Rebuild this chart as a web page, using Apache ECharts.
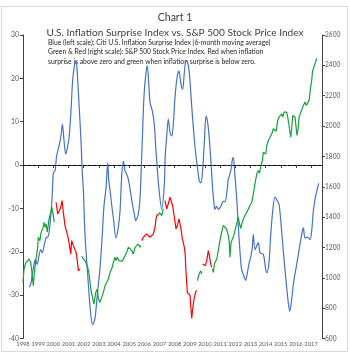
<!DOCTYPE html>
<html><head><meta charset="utf-8">
<script src="https://cdn.jsdelivr.net/npm/echarts@6/dist/echarts.min.js"></script>
<style>html,body{margin:0;padding:0;background:#fff}#c{width:350px;height:360px}</style>
</head><body><div id="c"></div>
<script>
// Tick labels
const yearTicks = [1998,1999,2000,2001,2002,2003,2004,2005,2006,2007,2008,2009,2010,2011,2012,2013,2014,2015,2016,2017];

// Blue: Citi U.S. Inflation Surprise Index (6m MA), left scale [year, value]
const surprise = [
[1998.42,-28.2],[1998.53,-27.2],[1998.61,-25.2],[1998.73,-22.9],[1998.81,-21.8],[1998.94,-22.9],
[1999.05,-21],[1999.17,-19.5],[1999.27,-20.2],[1999.41,-18.3],[1999.52,-16.8],[1999.67,-16.4],
[1999.78,-13.7],[1999.89,-9.1],[1999.96,-4.5],[2000.0,-1.8],[2000.11,-1.4],[2000.22,2.1],
[2000.4,4.8],[2000.5,6.7],[2000.6,9.4],[2000.7,5.9],[2000.82,2.5],[2000.95,4.4],[2001.05,6.7],
[2001.17,12.9],[2001.28,19.8],[2001.41,23.3],[2001.5,24.0],[2001.58,21.3],[2001.69,14.4],
[2001.83,5.2],[2001.91,-1.8],[2001.98,-5.6],[2002.09,-16],[2002.31,-27.5],[2002.47,-34.5],
[2002.6,-36.8],[2002.75,-35.3],[2002.9,-29.9],[2003.08,-23.7],[2003.23,-16],[2003.34,-9.5],
[2003.47,-5.5],[2003.59,0.5],[2003.65,-3.3],[2003.76,-6.4],[2003.86,-9.5],[2003.97,-12.5],
[2004.13,-16.8],[2004.28,-14.5],[2004.4,-10.6],[2004.51,-2.5],[2004.62,0.9],[2004.73,-1.4],
[2004.84,-2.1],[2004.95,-3.3],[2005.1,-6.4],[2005.24,-9.5],[2005.35,-11.4],[2005.43,-12.8],
[2005.6,-11.4],[2005.72,-7.5],[2005.83,2.1],[2005.98,15.9],[2006.11,21.3],[2006.2,22.9],
[2006.29,19],[2006.38,14.4],[2006.53,12.5],[2006.66,9.4],[2006.75,4.4],[2006.86,-1],
[2006.97,-5.6],[2007.15,-10.2],[2007.32,-4.5],[2007.38,2.1],[2007.48,6.7],[2007.58,10.6],
[2007.7,7.5],[2007.81,6.7],[2007.92,9.8],[2008.03,15.9],[2008.18,20.6],[2008.29,21.7],
[2008.42,18.6],[2008.53,17.5],[2008.64,21.3],[2008.75,24],[2008.86,23.6],[2008.97,21.3],
[2009.08,15.9],[2009.19,10.6],[2009.3,5.9],[2009.41,2.1],[2009.52,-1],[2009.63,-3.7],
[2009.74,-4.1],[2009.85,-1],[2009.96,5.2],[2010.07,11.3],[2010.18,9.8],[2010.29,5.9],
[2010.4,0.5],[2010.51,-5.6],[2010.6,-9],[2010.66,-10.2],[2010.77,-9.5],[2010.88,-10.2],
[2011.0,-9.8],[2011.1,-9.1],[2011.21,-8.3],[2011.32,-8.5],[2011.44,-6.4],[2011.54,-3.3],
[2011.61,-2.5],[2011.72,-1],[2011.81,1.3],[2011.87,1.7],[2011.98,-2.5],[2012.1,-8],
[2012.2,-14],[2012.31,-19.9],[2012.42,-24.1],[2012.57,-25.6],[2012.68,-26.6],[2012.79,-25],
[2012.92,-22.5],[2013.03,-21],[2013.12,-19.1],[2013.19,-16],[2013.3,-19.5],[2013.52,-17.9],
[2013.63,-20.2],[2013.85,-20.6],[2014.01,-24.1],[2014.1,-24.8],[2014.23,-22.2],[2014.34,-16],
[2014.47,-10.6],[2014.62,-7.4],[2014.78,-8.3],[2014.89,-9.1],[2015.02,-13.7],[2015.17,-19.9],
[2015.33,-26],[2015.46,-30.6],[2015.59,-33.7],[2015.72,-31],[2015.83,-27.5],[2016.01,-23.7],
[2016.16,-20.6],[2016.34,-16.8],[2016.49,-14.5],[2016.6,-16.8],[2016.75,-16.6],[2016.93,-17.2],
[2017.04,-15.2],[2017.15,-10.6],[2017.26,-7.9],[2017.41,-5.5],[2017.5,-4.2]
];

// S&P 500, right scale: green segments (surprise below zero)
const spGreenSegments = [
[[1998.0,970],[1998.07,1058],[1998.18,1098],[1998.28,1091],[1998.4,1124],[1998.51,1102],[1998.6,1025],
 [1998.68,948],[1998.75,1036],[1998.86,1124],[1998.97,1201],[1999.01,1267],[1999.12,1245],[1999.19,1300],
 [1999.3,1322],[1999.39,1366],[1999.45,1333],[1999.52,1355],[1999.6,1300],[1999.72,1388],[1999.83,1432],
 [1999.91,1465],[2000.0,1410],[2000.06,1366]],
[[2001.87,1141],[2001.98,1135],[2002.09,1113],[2002.16,1124],[2002.27,1069],[2002.37,1014],[2002.49,915],
 [2002.6,926],[2002.68,827],[2002.8,904],[2002.9,926],[2002.97,860],[2003.08,838],[2003.19,849],
 [2003.3,904],[2003.41,948],[2003.52,970],[2003.63,992],[2003.74,1036],[2003.85,1058],[2003.96,1102],
 [2004.07,1135],[2004.13,1113],[2004.22,1135],[2004.33,1113],[2004.44,1124],[2004.55,1110],
 [2004.62,1102],[2004.73,1146],[2004.84,1168],[2004.95,1201],[2005.06,1190],[2005.17,1179],
 [2005.28,1157],[2005.39,1201],[2005.5,1190],[2005.6,1223],[2005.72,1201],[2005.78,1212]],
[[2006.93,1410],[2007.0,1430],[2007.08,1443],[2007.15,1410],[2007.21,1432],[2007.25,1454]],
[[2009.5,981],[2009.61,1025],[2009.72,1047],[2009.79,1025]],
[[2010.49,1058],[2010.56,1036],[2010.62,1091],[2010.71,1080],[2010.78,1124],[2010.88,1179],[2010.99,1245],
 [2011.1,1300],[2011.21,1345],[2011.32,1355],[2011.43,1320],[2011.54,1280],[2011.6,1240],[2011.65,1135],
 [2011.72,1230],[2011.79,1250],[2011.87,1267],[2011.98,1311],[2012.09,1355],[2012.2,1399],[2012.27,1360],
 [2012.36,1325],[2012.43,1355],[2012.53,1388],[2012.64,1410],[2012.76,1432],[2012.86,1421],[2012.97,1476],
 [2013.09,1498],[2013.19,1553],[2013.3,1620],[2013.42,1685],[2013.52,1707],[2013.6,1690],[2013.7,1740],
 [2013.79,1773],[2013.85,1828],[2013.92,1839],[2014.01,1815],[2014.08,1872],[2014.18,1905],[2014.29,1916],
 [2014.41,1949],[2014.51,1982],[2014.62,1993],[2014.69,1965],[2014.8,2037],[2014.89,2059],[2014.97,2048],
 [2015.06,2081],[2015.13,2059],[2015.22,2092],[2015.28,2081],[2015.39,2092],[2015.46,2059],[2015.53,2015],
 [2015.59,1971],[2015.66,1927],[2015.72,1982],[2015.79,2070],[2015.88,2081],[2015.94,2059],[2016.01,1993],
 [2016.07,1938],[2016.14,1982],[2016.21,2059],[2016.29,2081],[2016.38,2092],[2016.49,2136],[2016.6,2158],
 [2016.69,2136],[2016.78,2125],[2016.87,2169],[2016.95,2240],[2017.04,2300],[2017.1,2365],[2017.18,2385],
 [2017.27,2415],[2017.37,2445]]
];

// S&P 500, right scale: red segments (surprise above zero)
const spRedSegments = [
[[2000.18,1498],[2000.29,1421],[2000.4,1443],[2000.49,1465],[2000.58,1509],[2000.66,1432],[2000.77,1344],
 [2000.88,1355],[2000.95,1278],[2001.05,1223],[2001.15,1157],[2001.21,1245],[2001.32,1212],[2001.43,1212],
 [2001.5,1168],[2001.58,1113],[2001.65,1047],[2001.71,1036],[2001.76,1058]],
[[2005.83,1245],[2005.94,1267],[2006.05,1256],[2006.16,1289],[2006.27,1300],[2006.38,1267],[2006.49,1278],
 [2006.6,1289],[2006.71,1333],[2006.77,1388],[2006.86,1421]],
[[2007.37,1509],[2007.48,1454],[2007.58,1487],[2007.7,1531],[2007.76,1542],[2007.87,1476],[2007.98,1399],
 [2008.09,1322],[2008.18,1344],[2008.29,1388],[2008.4,1333],[2008.51,1256],[2008.62,1212],[2008.69,1168],
 [2008.75,1036],[2008.84,904],[2008.95,893],[2009.02,882],[2009.08,794],[2009.13,732],[2009.19,794],
 [2009.28,860],[2009.39,908],[2009.46,915]],
[[2009.85,1091],[2009.94,1102],[2010.03,1080],[2010.12,1113],[2010.22,1179],[2010.29,1146],[2010.38,1091],
 [2010.45,1069]]
];

const BLUE = '#4472C4', GREEN = '#16a03c', RED = '#ff0000';
const AX = '#404040', LBL = '#595959';
const FONT = 'Lato, "Liberation Sans", sans-serif';

const series = [{
  type: 'line', data: surprise, yAxisIndex: 0, symbol: 'none', smooth: 0.3,
  lineStyle: { color: BLUE, width: 1.2 }, z: 2,
  markLine: { silent: true, symbol: 'none', label: { show: false },
    lineStyle: { color: '#000', type: [3, 2], width: 1 }, data: [{ yAxis: 0 }] }
}];
spGreenSegments.forEach(s => series.push({ type: 'line', data: s, yAxisIndex: 1, symbol: 'none',
  lineStyle: { color: GREEN, width: 1.2 }, z: 3 }));
spRedSegments.forEach(s => series.push({ type: 'line', data: s, yAxisIndex: 1, symbol: 'none',
  lineStyle: { color: RED, width: 1.2 }, z: 3 }));

const plain = v => String(Math.round(v));

const chart = echarts.init(document.getElementById('c'), null, { renderer: 'canvas' });
chart.setOption({
  animation: false,
  backgroundColor: '#fff',
  grid: { left: 23, right: 28, top: 35, bottom: 21.5 },
  xAxis: {
    type: 'value', min: 1998, max: 2017.72,
    axisLine: { lineStyle: { color: AX } },
    axisTick: { show: true, length: 3, lineStyle: { color: AX }, customValues: yearTicks },
    axisLabel: { customValues: yearTicks, formatter: plain, hideOverlap: false, color: LBL, fontSize: 5.8, fontFamily: FONT, margin: 2.5 },
    splitLine: { show: false }
  },
  yAxis: [{
    type: 'value', min: -40, max: 30, interval: 10, position: 'left',
    axisLine: { show: true, lineStyle: { color: AX } },
    axisTick: { show: true, length: 3, lineStyle: { color: AX } },
    axisLabel: { color: LBL, fontSize: 6.8, fontFamily: FONT, margin: 4, formatter: plain },
    splitLine: { show: false }
  }, {
    type: 'value', min: 600, max: 2600, interval: 200, position: 'right',
    axisLine: { show: true, lineStyle: { color: AX } },
    axisTick: { show: true, length: 3, lineStyle: { color: AX } },
    axisLabel: { color: LBL, fontSize: 6.6, fontFamily: FONT, margin: 3, formatter: plain },
    splitLine: { show: false }
  }],
  graphic: [
    { type: 'rect', shape: { x: 1.5, y: 6.5, width: 346, height: 345 }, style: { fill: 'none', stroke: '#d9d9d9', lineWidth: 1 }, z: -1 },
    { type: 'text', x: 175, y: 18, style: { text: 'Chart 1', fill: '#404040', fontSize: 10.5, fontFamily: FONT, align: 'center', verticalAlign: 'middle' } },
    { type: 'text', x: 175, y: 32.5, style: { text: 'U.S. Inflation Surprise Index vs. S&P 500 Stock Price Index', fill: '#404040', fontSize: 10.1, fontFamily: FONT, align: 'center', verticalAlign: 'middle' } },
    { type: 'text', x: 48, y: 42.7, style: { text: 'Blue (left scale): Citi U.S. Inflation Surprise Index (6-month moving average)', fill: '#262626', fontSize: 6.8, fontFamily: FONT, align: 'left', verticalAlign: 'middle' } },
    { type: 'text', x: 48, y: 52, style: { text: 'Green & Red (right scale): S&P 500 Stock Price Index. Red when inflation', fill: '#262626', fontSize: 6.8, fontFamily: FONT, align: 'left', verticalAlign: 'middle' } },
    { type: 'text', x: 48, y: 61.7, style: { text: 'surprise is above zero and green when inflation surprise is below zero.', fill: '#262626', fontSize: 6.8, fontFamily: FONT, align: 'left', verticalAlign: 'middle' } }
  ],
  series: series
});
</script>
</body></html>
